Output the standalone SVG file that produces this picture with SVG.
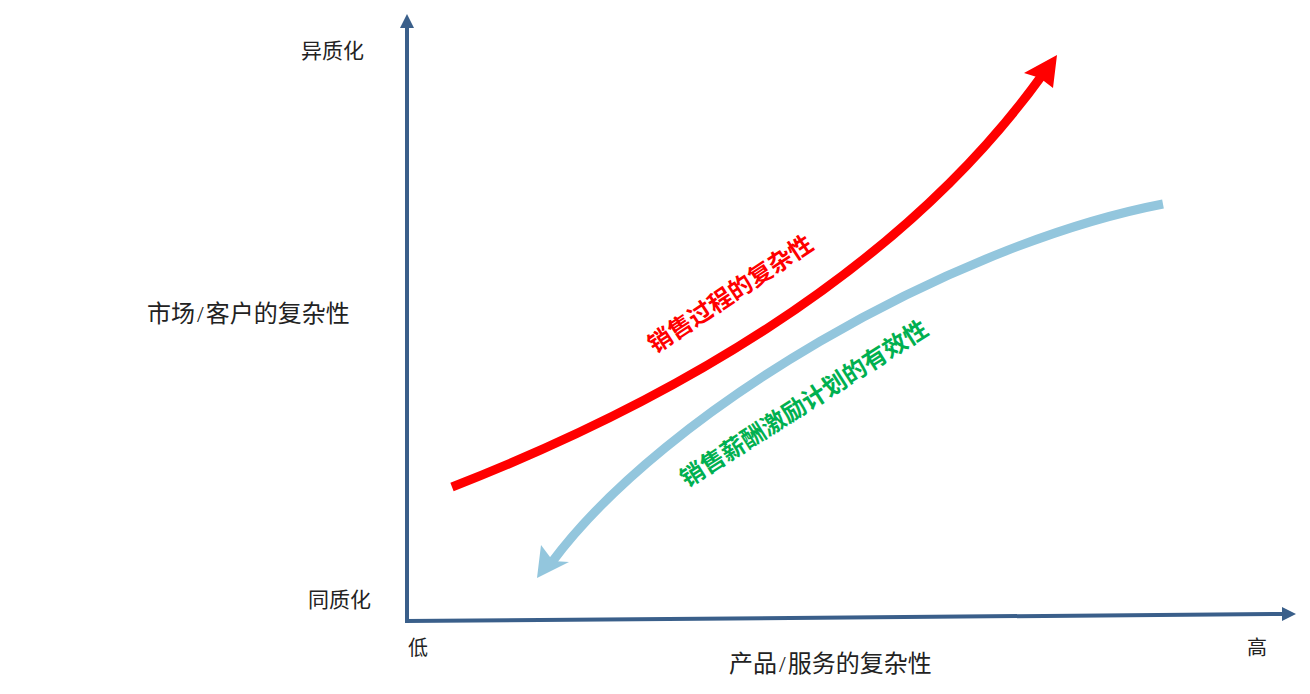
<svg xmlns="http://www.w3.org/2000/svg" width="1310" height="694" viewBox="0 0 1310 694">
<style>
.lbl{font-family:"Liberation Serif","Noto Sans CJK SC",serif;fill:#222;}
.ax{stroke:#3A5F8A;stroke-width:4;fill:none;}
.axh{fill:#3A5F8A;}
.diag{font-family:"Noto Sans CJK SC",sans-serif;font-weight:bold;font-size:24px;}
</style>
<rect width="1310" height="694" fill="#fff"/>
<g id="connectors">
<g id="axis-y"><line class="ax" x1="407" y1="622" x2="407" y2="26"/><polygon class="axh" points="407,14 400,28 414,28"/></g>
<g id="axis-x"><line class="ax" x1="405" y1="621" x2="1284" y2="614"/><polygon class="axh" points="1296,614 1282,607 1282,621"/></g>
<g id="red-curve"><path d="M452,487 C652,409 895,280 1043,74" stroke="#FF0000" stroke-width="9" fill="none"/><polygon points="1057,55 1024,73 1040,78 1053,88" fill="#FF0000"/></g>
<g id="blue-curve"><path d="M1163,204 C950,245 665,410 552,562" stroke="#93C6DD" stroke-width="9" fill="none"/><polygon points="537,578 541,545 553,561 569,562" fill="#93C6DD"/></g>
</g>
<g id="label-hetero"><text class="lbl" x="301" y="58" font-size="21">异质化</text></g>
<g id="label-homo"><text class="lbl" x="308" y="607" font-size="21">同质化</text></g>
<g id="label-ymarket"><text class="lbl" x="147" y="322" font-size="24">市场<tspan dx="2">/</tspan><tspan dx="2">客户的复杂性</tspan></text></g>
<g id="label-low"><text class="lbl" x="408" y="655" font-size="20">低</text></g>
<g id="label-high"><text class="lbl" x="1247" y="655" font-size="20">高</text></g>
<g id="label-xproduct"><text class="lbl" x="729" y="672" font-size="24">产品<tspan dx="2">/</tspan><tspan dx="2">服务的复杂性</tspan></text></g>
<g id="label-sales-process"><text class="diag" fill="#FF0000" transform="translate(655,354) rotate(-33.5)">销售过程的复杂性</text></g>
<g id="label-incentive"><text class="diag" fill="#00B050" transform="translate(687,488) rotate(-32.5)">销售薪酬激励计划的有效性</text></g>
</svg>
